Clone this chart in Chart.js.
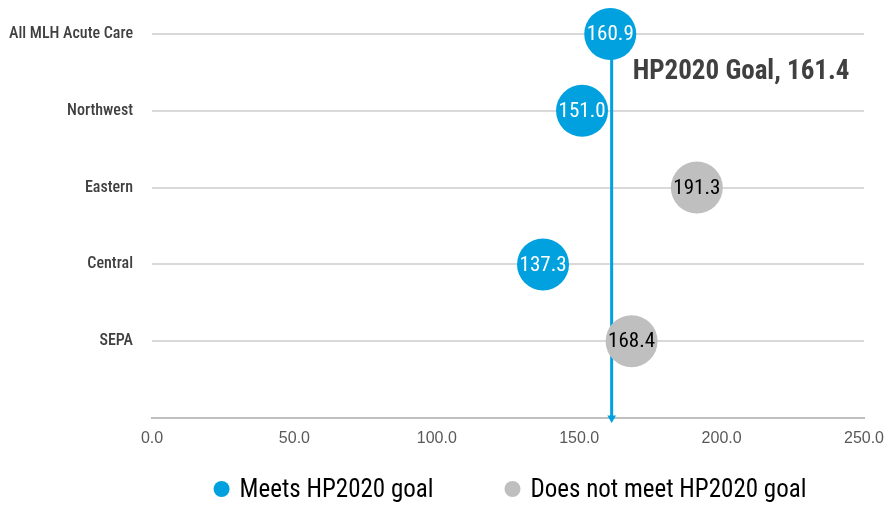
<!DOCTYPE html>
<html>
<head>
<meta charset="utf-8">
<script src="https://cdn.jsdelivr.net/npm/chart.js@4/dist/chart.umd.min.js"></script>
<style>
  html, body { margin: 0; padding: 0; background: #ffffff; }
  #wrap { width: 890px; height: 506px; position: relative; }
</style>
</head>
<body>
<div id="wrap"><canvas id="chart"></canvas></div>
<script>
// Rates by region, compared with the Healthy People 2020 goal
const categories = ['All MLH Acute Care', 'Northwest', 'Eastern', 'Central', 'SEPA'];
const rates = [160.9, 151.0, 191.3, 137.3, 168.4];
const goalValue = 161.4;
const goalLabel = 'HP2020 Goal, 161.4';
const seriesNames = ['Meets HP2020 goal', 'Does not meet HP2020 goal'];
const xTicks = [0, 50, 100, 150, 200, 250];

const BLUE = '#00A1DE';
const GREY = '#BFBFBF';
const COND = '"Roboto Condensed", Roboto, "Liberation Sans", sans-serif';
const SANS = '"Liberation Sans", Arial, sans-serif';

const rowCount = categories.length;
// top category sits on the highest row
const rowOf = i => rowCount - i;

const meetsPoints = [];
const missPoints = [];
rates.forEach((v, i) => {
  (v <= goalValue ? meetsPoints : missPoints).push({ x: v, y: rowOf(i) });
});

// value printed in the middle of each bubble
const valueLabels = {
  id: 'valueLabels',
  afterDatasetsDraw(chart) {
    const ctx = chart.ctx;
    chart.data.datasets.forEach((ds, di) => {
      if (!ds.labelColor) return;
      const meta = chart.getDatasetMeta(di);
      meta.data.forEach((pt, j) => {
        ctx.save();
        ctx.font = '21px ' + COND;
        ctx.fillStyle = ds.labelColor;
        ctx.textAlign = 'center';
        ctx.textBaseline = 'middle';
        ctx.fillText(ds.data[j].x.toFixed(1), pt.x, pt.y + 1);
        ctx.restore();
      });
    });
  }
};

// caption next to the goal line
const goalCaption = {
  id: 'goalCaption',
  afterDatasetsDraw(chart) {
    const { ctx, scales } = chart;
    const x = scales.x.getPixelForValue(goalValue) + 21;
    const y = scales.y.getPixelForValue(rowCount - 0.5);
    ctx.save();
    ctx.font = 'bold 27px ' + COND;
    ctx.fillStyle = '#404040';
    ctx.textAlign = 'left';
    ctx.textBaseline = 'middle';
    ctx.fillText(goalLabel, x, y);
    ctx.restore();
  }
};

// legend row under the axis, centred on the plot area
const bottomLegend = {
  id: 'bottomLegend',
  afterDraw(chart) {
    const { ctx, chartArea } = chart;
    const items = [
      { text: seriesNames[0], color: BLUE },
      { text: seriesNames[1], color: GREY }
    ];
    const r = 8, gapText = 10, gapItem = 71;
    ctx.save();
    ctx.font = '25px ' + COND;
    const widths = items.map(it => 2 * r + gapText + ctx.measureText(it.text).width);
    const total = widths.reduce((a, b) => a + b, 0) + gapItem * (items.length - 1);
    let x = (chartArea.left + chartArea.right) / 2 - total / 2 + 2;
    const y = 491;
    items.forEach((it, k) => {
      ctx.beginPath();
      ctx.fillStyle = it.color;
      ctx.arc(x + r, y - 2, r, 0, Math.PI * 2);
      ctx.fill();
      ctx.fillStyle = '#000000';
      ctx.textAlign = 'left';
      ctx.textBaseline = 'middle';
      ctx.fillText(it.text, x + 2 * r + gapText, y);
      x += widths[k] + gapItem;
    });
    ctx.restore();
  }
};

new Chart(document.getElementById('chart'), {
  type: 'scatter',
  data: {
    datasets: [
      {
        label: seriesNames[0],
        data: meetsPoints,
        backgroundColor: BLUE,
        borderWidth: 0,
        pointRadius: 26,
        pointHoverRadius: 26,
        pointStyle: 'circle',
        labelColor: '#ffffff',
        clip: false,
        order: 1
      },
      {
        label: seriesNames[1],
        data: missPoints,
        backgroundColor: GREY,
        borderWidth: 0,
        pointRadius: 26,
        pointHoverRadius: 26,
        pointStyle: 'circle',
        labelColor: '#000000',
        clip: false,
        order: 1
      },
      {
        type: 'line',
        label: 'goal',
        data: [{ x: goalValue, y: rowCount }, { x: goalValue, y: 0 }],
        borderColor: BLUE,
        backgroundColor: BLUE,
        borderWidth: 3,
        showLine: true,
        fill: false,
        pointRadius: [0, 5],
        pointHoverRadius: [0, 5],
        pointStyle: 'triangle',
        rotation: 180,
        pointBorderWidth: 0,
        clip: false,
        order: 10
      }
    ]
  },
  options: {
    responsive: true,
    maintainAspectRatio: false,
    animation: false,
    events: [],
    layout: { padding: { top: 34, right: 25, bottom: 0, left: 0 } },
    plugins: {
      legend: { display: false },
      tooltip: { enabled: false }
    },
    scales: {
      x: {
        type: 'linear',
        min: 0,
        max: 250,
        afterBuildTicks: s => { s.ticks = xTicks.map(v => ({ value: v })); },
        afterFit: s => { s.height = 88; s.paddingLeft = 0; s.paddingRight = 0; },
        ticks: {
          callback: v => Number(v).toFixed(1),
          font: { family: SANS, size: 16 },
          color: '#595959',
          padding: 11,
          maxRotation: 0
        },
        grid: { display: false, drawTicks: false },
        border: { display: true, color: GREY, width: 2 }
      },
      y: {
        type: 'linear',
        min: 0,
        max: rowCount,
        afterBuildTicks: s => {
          s.ticks = [];
          for (let v = 0; v <= rowCount; v++) s.ticks.push({ value: v });
        },
        afterFit: s => { s.width = 152; s.paddingTop = 0; s.paddingBottom = 0; },
        ticks: {
          callback: v => (v === 0 ? '' : categories[rowCount - v]),
          font: { family: COND, size: 16, weight: '500' },
          color: '#404040',
          padding: 19
        },
        grid: {
          drawTicks: false,
          lineWidth: 2,
          color: c => (c.tick && c.tick.value === 0 ? 'rgba(0,0,0,0)' : '#D9D9D9')
        },
        border: { display: false }
      }
    }
  },
  plugins: [valueLabels, goalCaption, bottomLegend]
});
</script>
</body>
</html>
